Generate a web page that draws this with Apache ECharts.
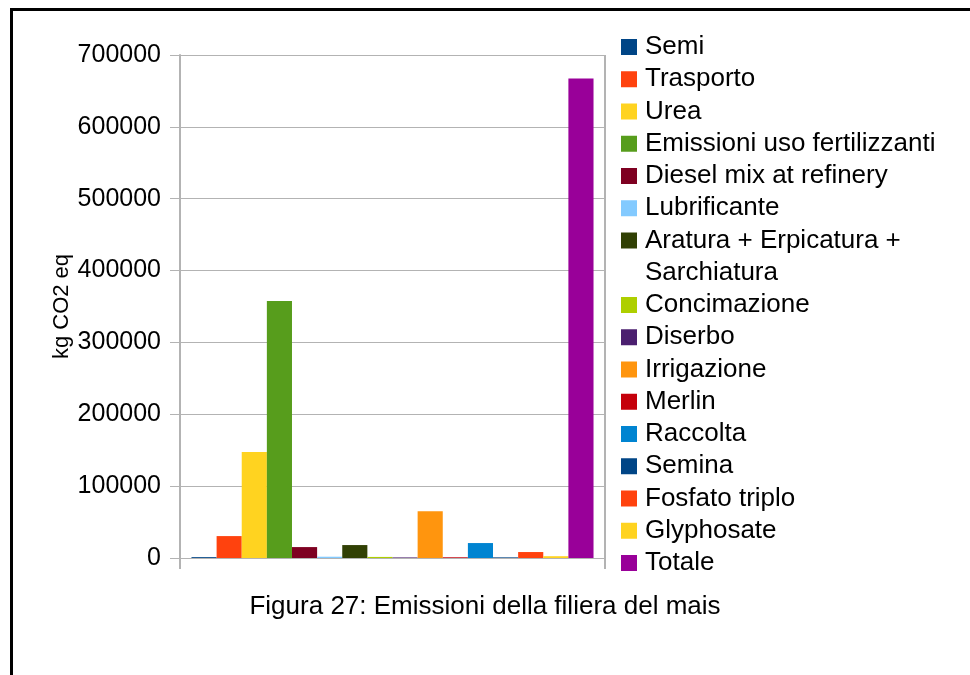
<!DOCTYPE html>
<html>
<head>
<meta charset="utf-8">
<title>Emissioni della filiera del mais</title>
<script src="https://cdn.jsdelivr.net/npm/echarts@6/dist/echarts.min.js"></script>
<style>
  html, body { margin: 0; padding: 0; background: #ffffff; }
  #chart { width: 970px; height: 675px; }
</style>
</head>
<body>
<div id="chart"></div>
<script>
// Emission sources (one bar each) and their values in kg CO2 eq
const sources = [
  'Semi', 'Trasporto', 'Urea', 'Emissioni uso fertilizzanti',
  'Diesel mix at refinery', 'Lubrificante', 'Aratura + Erpicatura + Sarchiatura',
  'Concimazione', 'Diserbo', 'Irrigazione', 'Merlin', 'Raccolta',
  'Semina', 'Fosfato triplo', 'Glyphosate', 'Totale'
];
const emissions = [
  1200, 30500, 147400, 357800,
  15200, 1800, 18000,
  1500, 800, 65000, 1000, 20800,
  900, 8300, 2500, 667200
];
const colors = [
  '#004586', '#ff420e', '#ffd320', '#579d1c',
  '#7e0021', '#83caff', '#314004',
  '#aecf00', '#4b1f6f', '#ff950e', '#c5000b', '#0084d1',
  '#004586', '#ff420e', '#ffd320', '#990099'
];
const yTicks = { min: 0, max: 700000, step: 100000 };
const yTitle = 'kg CO2 eq';
const caption = 'Figura 27: Emissioni della filiera del mais';

const FONT = '"Liberation Sans", Arial, sans-serif';
const GRID = '#b3b3b3';
const LINE_H = 32.25;
const LEGEND_PAD = 5;
const FIRST_CENTER = 47;   // vertical centre of the first legend swatch
const LEGEND_SPLIT = 6;    // the second block starts with the wrapped entry

const chart = echarts.init(document.getElementById('chart'), null, { renderer: 'canvas' });

const series = sources.map((name, i) => ({
  name: name,
  type: 'bar',
  data: [emissions[i]],
  itemStyle: { color: colors[i] },
  barGap: '0%',
  barCategoryGap: '5.4%',
  animation: false
}));

// The wrapped entry gets a leading blank line so its first text line sits
// level with the swatch and the second line hangs below it.
function legendLabel(name) {
  if (name.indexOf('Sarchiatura') >= 0) {
    return '\n' + name.replace('Erpicatura + ', 'Erpicatura +\n');
  }
  return name;
}

function legendBlock(names, top) {
  return {
    orient: 'vertical',
    left: 616,
    top: top,
    padding: LEGEND_PAD,
    itemWidth: 16,
    itemHeight: 16,
    itemGap: 0,
    icon: 'rect',
    data: names,
    formatter: legendLabel,
    textStyle: {
      fontFamily: FONT, fontSize: 26, color: '#000', lineHeight: LINE_H,
      padding: [0, 0, 0, 3]
    },
    selectedMode: false
  };
}

// first block: its top item's text box starts half a line above the swatch centre
const topA = FIRST_CENTER - LINE_H / 2 - LEGEND_PAD;
// second block: the wrapped entry's box starts one and a half lines above its swatch centre
const topB = FIRST_CENTER + LEGEND_SPLIT * LINE_H - 1.5 * LINE_H - LEGEND_PAD;

chart.setOption({
  backgroundColor: '#ffffff',
  animation: false,
  color: colors,
  title: {
    text: caption,
    left: 'center',
    top: 589,
    textStyle: { fontFamily: FONT, fontSize: 26, fontWeight: 'normal', color: '#000' }
  },
  legend: [
    legendBlock(sources.slice(0, LEGEND_SPLIT), topA),
    legendBlock(sources.slice(LEGEND_SPLIT), topB)
  ],
  grid: { left: 180, right: 365, top: 55, bottom: 117, containLabel: false },
  xAxis: {
    type: 'category',
    data: [''],
    axisLine: { show: true, lineStyle: { color: GRID, width: 1 } },
    axisTick: { show: true, length: 11, lineStyle: { color: GRID, width: 2 } },
    axisLabel: { show: false },
    splitLine: { show: true, interval: 0, lineStyle: { color: GRID, width: 2 } }
  },
  yAxis: {
    type: 'value',
    min: yTicks.min,
    max: yTicks.max,
    interval: yTicks.step,
    name: yTitle,
    nameLocation: 'middle',
    nameGap: 107,
    nameTextStyle: { fontFamily: FONT, fontSize: 22, color: '#000' },
    axisLine: { show: true, lineStyle: { color: GRID, width: 2 } },
    axisTick: { show: true, length: 10, lineStyle: { color: GRID, width: 1 } },
    axisLabel: {
      fontFamily: FONT, fontSize: 25, color: '#000', margin: 19,
      formatter: v => String(v)
    },
    splitLine: { show: true, lineStyle: { color: GRID, width: 1 } }
  },
  series: series,
  graphic: [{
    type: 'rect',
    left: 9,
    top: 7,
    shape: { x: 0, y: 0, width: 1000, height: 700 },
    style: { fill: 'none', stroke: '#000', lineWidth: 3 },
    z: 100
  }]
});
</script>
</body>
</html>
